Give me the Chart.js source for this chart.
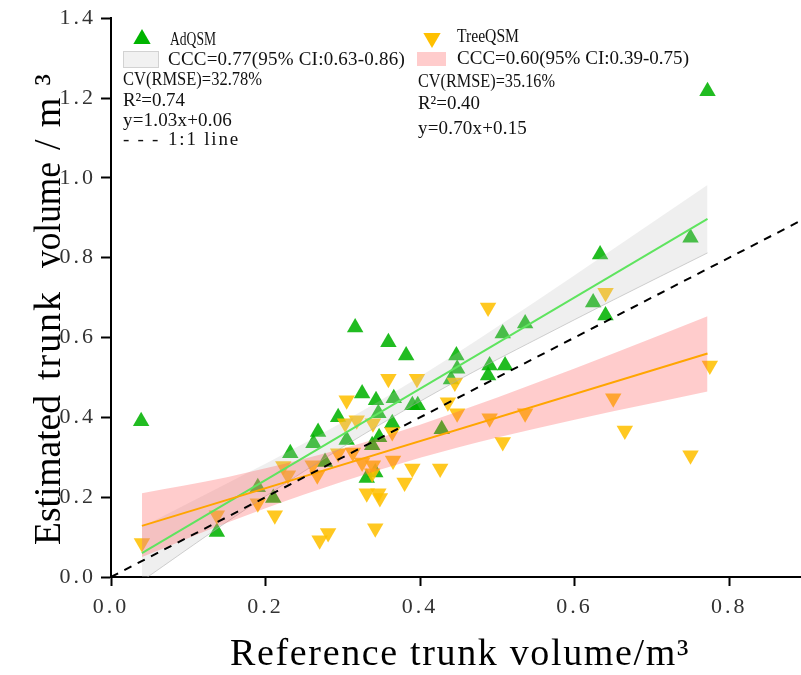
<!DOCTYPE html>
<html><head><meta charset="utf-8">
<script src="https://cdn.jsdelivr.net/npm/chart.js@4.4.1/dist/chart.umd.min.js"></script>
<style>html,body{margin:0;padding:0;background:#fff}#wrap{width:801px;height:675px}</style>
</head><body><div id="wrap"><canvas id="c" width="801" height="675"></canvas></div>
<script>
// ---- data ----
const adqsmRef = [0.039,0.137,0.190,0.210,0.232,0.262,0.268,0.277,0.294,0.316,0.359,0.382,0.447,0.448,0.440,0.325,0.343,0.366,0.390,0.397,0.346,0.364,0.428,0.347,0.305,0.338,0.331,0.342,0.488,0.490,0.510,0.507,0.536,0.624,0.633,0.640,0.750,0.772];
const adqsmEst = [0.390,0.113,0.225,0.198,0.310,0.335,0.363,0.288,0.400,0.625,0.588,0.555,0.555,0.522,0.495,0.460,0.443,0.448,0.430,0.430,0.410,0.385,0.370,0.350,0.343,0.330,0.248,0.262,0.505,0.530,0.530,0.610,0.635,0.688,0.808,0.655,0.850,1.217];
const treeqsmRef = [0.040,0.137,0.190,0.212,0.223,0.229,0.261,0.267,0.270,0.281,0.294,0.303,0.305,0.318,0.339,0.359,0.396,0.445,0.436,0.448,0.364,0.313,0.325,0.339,0.338,0.365,0.390,0.426,0.380,0.331,0.346,0.348,0.342,0.488,0.490,0.536,0.507,0.640,0.775,0.650,0.665,0.750];
const treeqsmEst = [0.085,0.155,0.185,0.155,0.278,0.255,0.280,0.255,0.092,0.110,0.310,0.385,0.443,0.393,0.385,0.497,0.497,0.487,0.438,0.410,0.363,0.312,0.287,0.280,0.260,0.292,0.272,0.272,0.237,0.210,0.210,0.198,0.122,0.675,0.398,0.410,0.338,0.712,0.530,0.448,0.367,0.305];
const fitX = [0.04, 0.772];
const adFitY = [0.06, 0.897];
const trFitY = [0.128, 0.56];
const bandX = [0.04,0.15,0.25,0.35,0.45,0.55,0.65,0.772];
const adBandHi = [0.125,0.234,0.335,0.444,0.564,0.691,0.822,0.982];
const adBandLo = [-0.01,0.138,0.265,0.384,0.494,0.595,0.694,0.812];
const trBandHi = [0.21,0.25,0.296,0.35,0.415,0.486,0.56,0.653];
const trBandLo = [0.05,0.136,0.207,0.27,0.325,0.372,0.415,0.465];
const oneToOne = [0, 0.893];
const xTickValues = [0.0,0.2,0.4,0.6,0.8];
const yTickValues = [0.0,0.2,0.4,0.6,0.8,1.0,1.2,1.4];

const zip = (xs, ys) => xs.map((x, i) => ({x, y: ys[i]}));
const SERIF = 'Liberation Serif';

function drawFit(ctx, text, x, y, width, size, color) {
  ctx.save();
  ctx.font = size + 'px "' + SERIF + '"';
  if ('letterSpacing' in ctx) ctx.letterSpacing = '0px';
  ctx.fillStyle = color || '#111';
  ctx.textBaseline = 'middle';
  ctx.textAlign = 'left';
  const w = ctx.measureText(text).width;
  const n = [...text].length;
  ctx.translate(x, y);
  if (width > w && 'letterSpacing' in ctx && n > 1) {
    ctx.letterSpacing = ((width - w) / n) + 'px';
  } else {
    ctx.scale(width / w, 1);
  }
  ctx.fillText(text, 0, 0);
  ctx.restore();
}
function tri(ctx, x, y, r, down, color) {
  ctx.save();
  ctx.translate(x, y);
  if (down) ctx.rotate(Math.PI);
  ctx.beginPath();
  ctx.moveTo(0, -r);
  ctx.lineTo(r * Math.sin(Math.PI / 3), r / 2);
  ctx.lineTo(-r * Math.sin(Math.PI / 3), r / 2);
  ctx.closePath();
  ctx.fillStyle = color;
  ctx.fill();
  ctx.restore();
}

const deco = {
  id: 'deco',
  afterLayout(chart) {
    // let the x axis run to the right edge of the canvas, as in the reference
    const s = chart.scales.x, ca = chart.chartArea;
    s.right = chart.width; s.width = s.right - s.left; s.configure();
    ca.right = chart.width; ca.width = ca.right - ca.left;
  },
  beforeDraw(chart) {
    const ctx = chart.ctx;
    if ('letterSpacing' in ctx) ctx.letterSpacing = '3px';
  },
  afterDraw(chart) {
    const ctx = chart.ctx;
    // left legend
    tri(ctx, 142, 39, 10, false, 'rgb(0,180,0)');
    drawFit(ctx, 'AdQSM', 170, 40, 46, 19);
    ctx.save();
    ctx.fillStyle = 'rgb(241,241,241)'; ctx.strokeStyle = 'rgb(210,210,210)'; ctx.lineWidth = 1;
    ctx.fillRect(123, 51, 35, 16); ctx.strokeRect(123.5, 51.5, 35, 16);
    ctx.restore();
    drawFit(ctx, 'CCC=0.77(95% CI:0.63-0.86)', 168, 60, 237, 19);
    drawFit(ctx, 'CV(RMSE)=32.78%', 123, 80, 139, 19);
    drawFit(ctx, 'R\u00B2=0.74', 123, 101, 62, 19);
    drawFit(ctx, 'y=1.03x+0.06', 123, 121, 109, 19);
    drawFit(ctx, '- - -', 123, 140, 37, 19);
    drawFit(ctx, '1:1 line', 168, 140, 72, 19);
    // right legend
    tri(ctx, 432, 38, 10, true, 'rgb(255,192,0)');
    drawFit(ctx, 'TreeQSM', 457, 37, 62, 19);
    ctx.save();
    ctx.fillStyle = 'rgb(255,204,204)';
    ctx.fillRect(417, 52, 29, 14);
    ctx.restore();
    drawFit(ctx, 'CCC=0.60(95% CI:0.39-0.75)', 457, 59, 232, 19);
    drawFit(ctx, 'CV(RMSE)=35.16%', 418, 82, 137, 19);
    drawFit(ctx, 'R\u00B2=0.40', 418, 104, 62, 19);
    drawFit(ctx, 'y=0.70x+0.15', 418, 129, 109, 19);
    // x title
    drawFit(ctx, 'Reference trunk volume/m\u00B3', 230, 655, 460, 38, '#000');
    // y title (rotated words)
    const words = [['Estimated', 545, 395], ['trunk', 380, 290], ['volume', 268, 162], ['/m\u00B3', 150, 62]];
    words.forEach(([t, yb, yt]) => {
      ctx.save();
      ctx.translate(50, yb);
      ctx.rotate(-Math.PI / 2);
      drawFit(ctx, t, 0, 0, yb - yt, 38, '#000');
      ctx.restore();
    });
  }
};

const ptsAd = zip(adqsmRef, adqsmEst);
const ptsTr = zip(treeqsmRef, treeqsmEst);

new Chart(document.getElementById('c'), {
  type: 'scatter',
  data: {
    datasets: [
      { label: 'AdQSM', data: ptsAd, pointStyle: 'triangle', pointRadius: 9.5, pointHoverRadius: 9.5,
        backgroundColor: 'rgba(0,178,0,0.87)', borderWidth: 0, order: 6 },
      { label: 'TreeQSM', data: ptsTr, pointStyle: 'triangle', rotation: 180, pointRadius: 9.5, pointHoverRadius: 9.5,
        backgroundColor: 'rgba(255,192,0,0.87)', borderWidth: 0, order: 5 },
      { type: 'line', label: 'adHi', data: zip(bandX, adBandHi), pointRadius: 0, borderWidth: 0, borderColor: 'rgba(0,0,0,0)',
        fill: '+1', backgroundColor: 'rgba(190,190,190,0.25)', cubicInterpolationMode: 'monotone', order: 4 },
      { type: 'line', label: 'adLo', data: zip(bandX, adBandLo), pointRadius: 0, borderWidth: 1, borderColor: 'rgba(170,170,170,0.55)',
        fill: false, cubicInterpolationMode: 'monotone', order: 4 },
      { type: 'line', label: 'trHi', data: zip(bandX, trBandHi), pointRadius: 0, borderWidth: 0, borderColor: 'rgba(0,0,0,0)',
        fill: '+1', backgroundColor: 'rgba(255,85,85,0.3)', cubicInterpolationMode: 'monotone', order: 3 },
      { type: 'line', label: 'trLo', data: zip(bandX, trBandLo), pointRadius: 0, borderWidth: 0, borderColor: 'rgba(0,0,0,0)',
        fill: false, cubicInterpolationMode: 'monotone', order: 3 },
      { type: 'line', label: 'adFit', data: zip(fitX, adFitY), pointRadius: 0, borderWidth: 2, borderColor: 'rgb(95,228,95)', fill: false, order: 2 },
      { type: 'line', label: 'trFit', data: zip(fitX, trFitY), pointRadius: 0, borderWidth: 2, borderColor: 'rgb(255,165,0)', fill: false, order: 1 },
      { type: 'line', label: '1:1', data: zip(oneToOne, oneToOne), pointRadius: 0, borderWidth: 2, borderColor: '#000', borderDash: [8, 7], fill: false, order: 0 }
    ]
  },
  options: {
    responsive: false,
    animation: false,
    devicePixelRatio: 1,
    layout: { padding: { top: 17, right: 0, left: 0, bottom: 0 } },
    plugins: { legend: { display: false }, tooltip: { enabled: false } },
    scales: {
      x: {
        type: 'linear', min: 0, max: 0.893,
        afterFit: s => { s.height = 98; },
        afterBuildTicks: s => { s.ticks = xTickValues.map(v => ({value: v})); },
        ticks: { callback: v => Number(v).toFixed(1), font: { family: SERIF, size: 22 }, color: '#333', padding: 8, maxRotation: 0, autoSkip: false },
        grid: { drawOnChartArea: false, drawTicks: true, tickLength: 9, tickColor: '#000', tickWidth: 2 },
        border: { display: true, color: '#000', width: 2 }
      },
      y: {
        type: 'linear', min: 0, max: 1.4,
        afterFit: s => { s.width = 111; },
        afterBuildTicks: s => { s.ticks = yTickValues.map(v => ({value: v})); },
        ticks: { callback: v => Number(v).toFixed(1), font: { family: SERIF, size: 22 }, color: '#333', padding: 5, autoSkip: false },
        grid: { drawOnChartArea: false, drawTicks: true, tickLength: 10, tickColor: '#000', tickWidth: 2 },
        border: { display: true, color: '#000', width: 2 }
      }
    }
  },
  plugins: [deco]
});
</script></body></html>
